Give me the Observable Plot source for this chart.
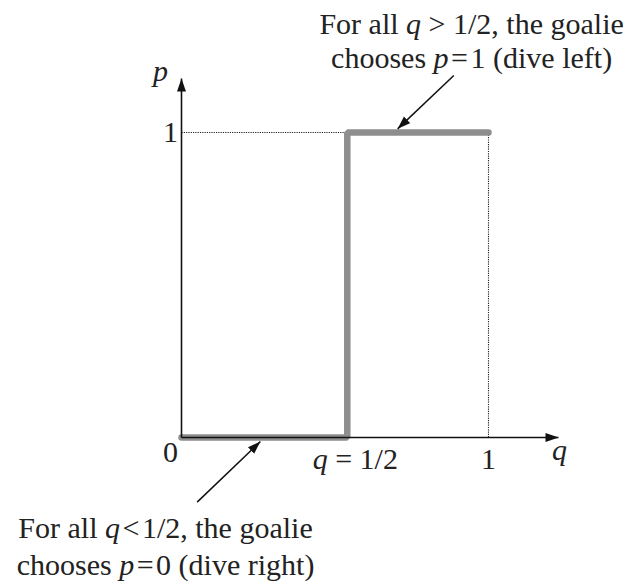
<!DOCTYPE html>
<html>
<head>
<meta charset="utf-8">
<script src="https://cdn.jsdelivr.net/npm/d3@7"></script>
<script src="https://cdn.jsdelivr.net/npm/@observablehq/plot@0.6"></script>
<style>
  html, body { margin: 0; padding: 0; background: #fff; }
</style>
</head>
<body>
<div id="chart"></div>
<script>
// ---- data ----
const stepQ = [0, 0.54, 0.54, 1];          // best-response curve, q
const stepP = [0, 0, 1, 1];                // best-response curve, p
const qThreshold = 0.54;                   // where "q = 1/2" is drawn
const qTickLabels = ["*q* = 1/2", "1"];
const qTickValues = [qThreshold, 1];
const pTickValues = [1];
const pTickLabels = ["1"];
const originLabel = "0";
const qAxisEnd = 1.228;
const pAxisEnd = 1.177;
const topNote = "For all *q* > 1/2, the goalie\nchooses *p*\u200A=\u200A1 (dive left)";
const bottomNote = "For all *q*\u200A<\u200A1/2, the goalie\nchooses *p*\u200A=\u200A0 (dive right)";
const topArrow = {q1: 0.887, p1: 1.187, q2: 0.704, p2: 1.012};
const bottomArrow = {q1: 0.051, p1: -0.212, q2: 0.257, p2: -0.013};

const FONT = "'Liberation Serif', 'Times New Roman', serif";
const FS = 30;

function filledArrow(color, context) {
  const ns = "http://www.w3.org/2000/svg";
  const doc = (context && context.document) || document;
  const m = doc.createElementNS(ns, "marker");
  m.setAttribute("viewBox", "-13 -5 13 10");
  m.setAttribute("markerWidth", 13);
  m.setAttribute("markerHeight", 10);
  m.setAttribute("markerUnits", "userSpaceOnUse");
  m.setAttribute("orient", "auto");
  m.setAttribute("refX", 0);
  m.setAttribute("refY", 0);
  const p = doc.createElementNS(ns, "path");
  p.setAttribute("d", "M-13,-4.5L0,0L-13,4.5Z");
  p.setAttribute("fill", color);
  p.setAttribute("stroke", "none");
  m.appendChild(p);
  return m;
}

function build(marker) {
  const steps = stepQ.map((q, i) => ({q, p: stepP[i]}));
  const txt = {fontFamily: FONT, fontSize: FS, fill: "#222"};
  return Plot.plot({
    width: 628,
    height: 583,
    margin: 0,
    style: {background: "#fff", overflow: "visible"},
    x: {domain: [0, 1], range: [181, 488], axis: null},
    y: {domain: [0, 1], range: [437, 132], axis: null},
    marks: [
      // dotted guides
      Plot.link([{q1: 0, p1: 1, q2: qThreshold, p2: 1}, {q1: 1, p1: 1, q2: 1, p2: 0}], {
        x1: "q1", y1: "p1", x2: "q2", y2: "p2",
        stroke: "#222", strokeWidth: 1.1, strokeDasharray: "1.2,1.1"
      }),
      // best response step
      Plot.line(steps, {x: "q", y: "p", stroke: "#8e8e8e", strokeWidth: 6.5,
        strokeLinecap: "round", strokeLinejoin: "miter"}),
      // axes with arrows
      Plot.link([{q1: 0, p1: 0, q2: qAxisEnd, p2: 0}, {q1: 0, p1: 0, q2: 0, p2: pAxisEnd}], {
        x1: "q1", y1: "p1", x2: "q2", y2: "p2",
        stroke: "#111", strokeWidth: 1.6, markerEnd: marker
      }),
      // annotation arrows
      Plot.link([topArrow, bottomArrow], {
        x1: "q1", y1: "p1", x2: "q2", y2: "p2",
        stroke: "#111", strokeWidth: 1.5, markerEnd: marker
      }),
      // tick labels
      Plot.text([originLabel], {x: 0, y: 0, text: d => d, dx: -11, dy: 24, lineAnchor: "bottom", ...txt}),
      Plot.text([qTickLabels[0]], {x: qTickValues[0], y: 0, text: d => d, dx: 8, dy: 31, lineAnchor: "bottom", ...txt}),
      Plot.text([qTickLabels[1]], {x: qTickValues[1], y: 0, text: d => d, dx: 0, dy: 31, lineAnchor: "bottom", ...txt}),
      Plot.text(pTickValues, {x: 0, y: d => d, text: (d, i) => pTickLabels[i], dx: -11, lineAnchor: "middle", ...txt}),
      // axis labels
      Plot.text(["*p*"], {x: 0, y: pAxisEnd, text: d => d, dx: -21, dy: 2, lineAnchor: "bottom", ...txt}),
      Plot.text(["*q*"], {x: qAxisEnd, y: 0, text: d => d, dx: 1, dy: 22, lineAnchor: "bottom", ...txt}),
      // annotations
      Plot.text([topNote], {x: 0.945, y: 1.213, text: d => d, lineAnchor: "bottom", lineHeight: 1.13, ...txt}),
      Plot.text([bottomNote], {x: -0.052, y: -0.452, text: d => d, lineAnchor: "bottom", lineHeight: 1.23, ...txt})
    ]
  });
}

let chart;
try { chart = build(filledArrow); } catch (e) { chart = build("arrow"); }

// italic math letters marked with *...*
chart.querySelectorAll("text, tspan").forEach(el => {
  if (el.children.length) return;
  const s = el.textContent;
  if (!s.includes("*")) return;
  el.textContent = "";
  s.split("*").forEach((part, i) => {
    if (!part) return;
    const t = document.createElementNS("http://www.w3.org/2000/svg", "tspan");
    if (i % 2) t.setAttribute("font-style", "italic");
    t.textContent = part;
    el.appendChild(t);
  });
});

document.getElementById("chart").appendChild(chart);
</script>
</body>
</html>
